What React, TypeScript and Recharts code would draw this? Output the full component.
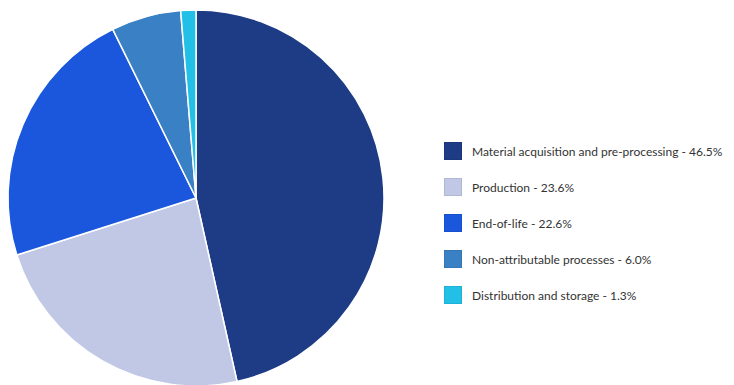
import { PieChart, Pie, Cell, Legend } from 'recharts';

const names = [
  'Material acquisition and pre-processing',
  'Production',
  'End-of-life',
  'Non-attributable processes',
  'Distribution and storage',
];
const shares = [46.5, 23.6, 22.6, 6.0, 1.3];
const colors = ['#1e3c86', '#c0c8e6', '#1a57dc', '#3a80c4', '#22c0e6'];

const data = names.map((name, i) => ({ name, value: shares[i] }));

const LegendList = () => (
  <div style={{ fontFamily: 'Lato, "Open Sans", sans-serif', fontSize: 12, color: '#333' }}>
    {data.map((d, i) => (
      <div key={d.name} style={{ display: 'flex', alignItems: 'center', height: 36 }}>
        <span
          style={{
            width: 18,
            height: 18,
            background: colors[i],
            border: '1px solid rgba(0,0,0,0.08)',
            marginRight: 10,
            boxSizing: 'border-box',
          }}
        />
        <span>
          {d.name} - {d.value.toFixed(1)}%
        </span>
      </div>
    ))}
  </div>
);

export default function App() {
  return (
    <div style={{ position: 'absolute', left: 0, top: 0, background: '#fff' }}>
      <PieChart width={734} height={385} margin={{ top: 0, right: 0, bottom: 0, left: 0 }}>
        <Pie
          data={data}
          dataKey="value"
          nameKey="name"
          cx={196}
          cy={198}
          outerRadius={188}
          startAngle={90}
          endAngle={-270}
          stroke="#ffffff"
          strokeWidth={1.5}
          isAnimationActive={false}
        >
          {data.map((d, i) => (
            <Cell key={d.name} fill={colors[i]} />
          ))}
        </Pie>
        <Legend
          content={<LegendList />}
          layout="vertical"
          wrapperStyle={{ left: 444, top: 133, width: 290 }}
        />
      </PieChart>
    </div>
  );
}
